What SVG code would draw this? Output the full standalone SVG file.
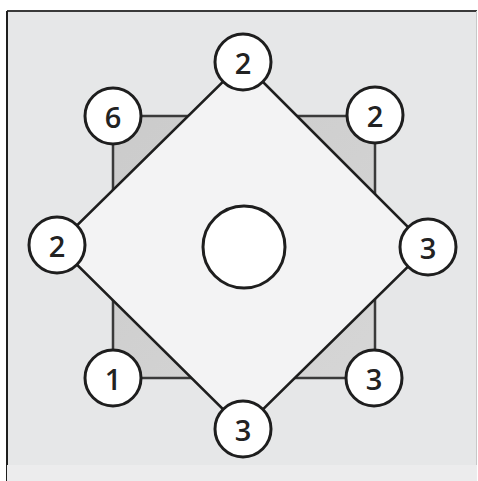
<svg xmlns="http://www.w3.org/2000/svg" width="478" height="481" viewBox="0 0 478 481">
<defs>
<linearGradient id="sq" x1="0" y1="0" x2="1" y2="1">
<stop offset="0" stop-color="#cbcbcb"/>
<stop offset="1" stop-color="#d6d6d6"/>
</linearGradient>
</defs>
<style>
.node circle{fill:#ffffff;stroke:#1e1e1e;stroke-width:3}
.node text{font-family:"Open Sans","DejaVu Sans",sans-serif;font-size:29px;font-weight:600;fill:#222222;text-anchor:middle;dominant-baseline:central}
</style>
<rect x="0" y="0" width="478" height="481" fill="#ffffff"/>
<rect x="7" y="11" width="470" height="454" fill="#e6e7e8"/>
<line x1="7" y1="11" x2="477" y2="11" stroke="#3a3a3a" stroke-width="2"/>
<line x1="7" y1="11" x2="7" y2="481" stroke="#1e1e1e" stroke-width="2"/>
<line x1="476.5" y1="11" x2="476.5" y2="465" stroke="#c8c8c8" stroke-width="1"/>
<rect x="7" y="465" width="470" height="16" fill="#ececed"/>
<g id="square">
<rect x="113" y="116" width="262" height="262" fill="url(#sq)" stroke="#3a3a3a" stroke-width="2.5"/>
</g>
<g id="diamond">
<polygon points="243,62 428,247 243,429 57,245" fill="#f3f3f4" stroke="#1e1e1e" stroke-width="2.5"/>
</g>
<g id="connectors"></g>
<g id="center" class="node"><circle cx="244" cy="247" r="41"/></g>
<g id="n-top" class="node"><circle cx="243" cy="62" r="28"/><text x="243" y="62">2</text></g>
<g id="n-tl" class="node"><circle cx="113" cy="116" r="28"/><text x="113" y="116">6</text></g>
<g id="n-tr" class="node"><circle cx="375" cy="115" r="28"/><text x="375" y="115">2</text></g>
<g id="n-left" class="node"><circle cx="57" cy="245" r="28"/><text x="57" y="245">2</text></g>
<g id="n-right" class="node"><circle cx="428" cy="247" r="28"/><text x="428" y="247">3</text></g>
<g id="n-bl" class="node"><circle cx="113" cy="378" r="28"/><text x="113" y="378">1</text></g>
<g id="n-br" class="node"><circle cx="374" cy="378" r="28"/><text x="374" y="378">3</text></g>
<g id="n-bottom" class="node"><circle cx="243" cy="429" r="28"/><text x="243" y="429">3</text></g>
</svg>
